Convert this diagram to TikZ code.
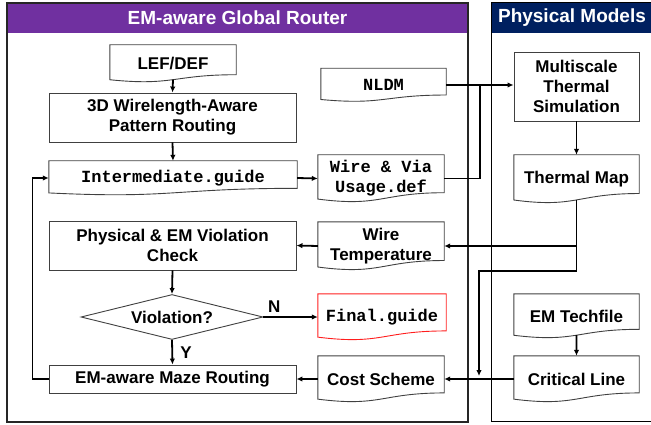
\documentclass[tikz,border=0pt]{standalone}
\usepackage{fontspec}
\setmainfont{Liberation Sans}
\setmonofont{Liberation Mono}
\usepackage{tikz}
\usetikzlibrary{calc,shapes.geometric,arrows.meta}

\begin{document}
\begin{tikzpicture}[x=1pt,y=-1pt,
    box/.style={draw=black!75, line width=0.9pt, fill=white, align=center,
        font=\fontsize{17}{20}\selectfont\bfseries, inner sep=0pt},
    doc/.style={align=center, font=\fontsize{17}{20}\selectfont\bfseries, inner sep=0pt},
    docline/.style={line width=0.9pt},
    wire/.style={line width=1.8pt, -{Latex[length=6pt,width=5.5pt]}},
    plain/.style={line width=1.8pt},
    title/.style={text=white, font=\fontsize{19}{22}\selectfont\bfseries}]
    % Define colors
    \definecolor{routerpurple}{RGB}{112,48,160}
    \definecolor{modelnavy}{RGB}{0,32,96}
    \definecolor{badred}{RGB}{255,30,30}

    \useasboundingbox (0,0) rectangle (651,425);

    % Panels
    \fill[routerpurple] (7,3) rectangle (468,33);
    \draw[line width=2.2pt, black!85] (7,3) rectangle (468,422);
    \node[title] (routertitle) at (237.5,18) {EM-aware Global Router};
    \fill[modelnavy] (491,3) rectangle (660,33);
    \draw[line width=1pt] (491,3) rectangle (660,421);
    \node[title] (modeltitle) at (572,18) {Physical Models};

    % Router flow
    \node[doc, minimum width=126pt, minimum height=37pt] (lef) at (173,63.5) {LEF/DEF};
    \node[box, minimum width=247pt, minimum height=49pt] (route) at (172.5,117.5) {3D Wirelength-Aware\\Pattern Routing};
    \node[doc, minimum width=248pt, minimum height=34pt] (inter) at (173,178) {\ttfamily Intermediate.guide};
    \node[box, minimum width=247pt, minimum height=49pt] (check) at (172.5,245.5) {Physical \& EM Violation\\Check};
    \node[box, diamond, aspect=4, minimum width=182pt, minimum height=45pt] (viol) at (172,317) {Violation?};
    \node[box, minimum width=247pt, minimum height=28pt] (maze) at (172.5,379) {EM-aware Maze Routing};

    % Files
    \node[doc, minimum width=125pt, minimum height=33pt] (nldm) at (383.5,85) {\ttfamily NLDM};
    \node[doc, minimum width=126pt, minimum height=47pt] (usage) at (381,178.5) {\ttfamily Wire \& Via\\\ttfamily Usage.def};
    \node[doc, minimum width=126pt, minimum height=48pt] (temp) at (381,246) {Wire\\Temperature};
    \node[doc, minimum width=128pt, minimum height=46pt] (final) at (382,317) {\ttfamily Final.guide};
    \node[doc, minimum width=126pt, minimum height=46pt] (cost) at (381,379) {Cost Scheme};

    % Physical models
    \node[box, minimum width=125pt, minimum height=69pt] (sim) at (576.5,86.5) {Multiscale\\Thermal\\Simulation};
    \node[doc, minimum width=125pt, minimum height=48pt] (tmap) at (576.5,179) {Thermal Map};
    \node[doc, minimum width=125pt, minimum height=44pt] (tech) at (576.5,316) {EM Techfile};
    \node[doc, minimum width=125pt, minimum height=46pt] (crit) at (576.5,379) {Critical Line};

    % Document outlines
    \foreach \n/\c in {lef/black!75, nldm/black!75, inter/black!75, usage/black!75, temp/black!75,
        cost/black!75, tmap/black!75, tech/black!75, crit/black!75, final/badred} {
        \draw[docline, draw=\c] (\n.north west) -- (\n.north east)
            -- ($(\n.north east)!0.8!(\n.south east)$)
            .. controls ($(\n.north)!0.8!(\n.south)$) and ($(\n.north)!1.108!(\n.south)$)
            .. ($(\n.north west)!0.934!(\n.south west)$) -- cycle;
        \coordinate (\n-b) at ($(\n.north)!0.933!(\n.south)$);
    }

    % Connectors
    \coordinate (jn) at (480,85);
    \coordinate (tbr) at (479,271);
    \draw[wire] (lef-b) -- (route.north);
    \draw[wire] (route.south) -- (inter.north);
    \draw[wire] (inter.east) -- (usage.west);
    \draw[wire] (check.south) -- (viol.north);
    \draw[wire] (viol.south) -- node[right, font=\fontsize{17}{20}\selectfont\bfseries, xshift=4pt] {Y} (maze.north);
    \draw[wire] (viol.east) -- (final.west)
        node[pos=0.2, above, font=\fontsize{17}{20}\selectfont\bfseries] {N};
    \draw[wire] (maze.west) -- ++(-16,0) |- (inter.west);
    \draw[wire] (temp.west) -- (check.east);
    \draw[wire] (cost.west) -- (maze.east);
    \draw[wire] (nldm.east) -- (nldm.east -| sim.west);
    \draw[plain] (usage.east) -| (jn);
    \draw[wire] (sim.south) -- (tmap.north);
    \draw[wire] (tmap-b) |- (temp.east);
    \draw[wire, shorten >=3pt] (tmap-b) |- (tbr) -- (tbr |- cost.east);
    \draw[wire] (crit.west) -- (cost.east);
    \draw[wire] (tech-b) -- (crit.north);

\end{tikzpicture}
\end{document}
